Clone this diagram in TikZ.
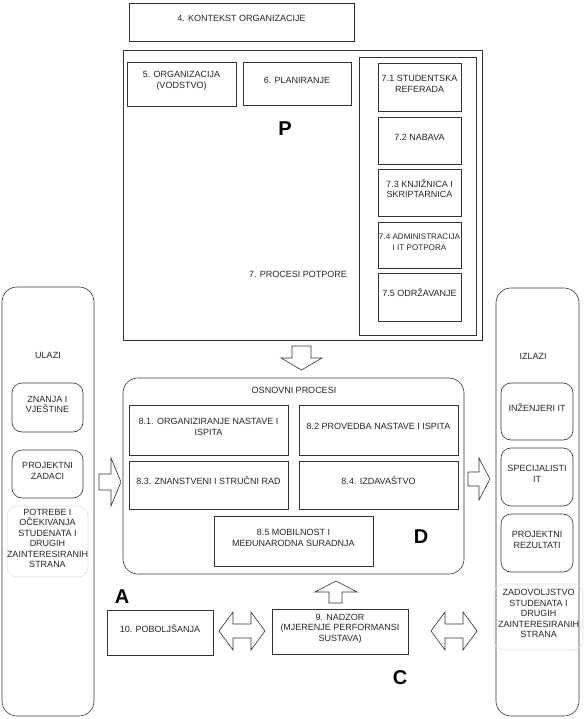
\documentclass[tikz,border=0pt]{standalone}
\usepackage{fontspec}
\setmainfont{Liberation Sans}
\usetikzlibrary{fit}
\begin{document}
\begin{tikzpicture}[x=1pt,y=-1pt,
  box/.style={draw=black!80, line width=0.6pt, align=center, inner sep=0pt,
    font=\fontsize{9}{10.5}\selectfont, text=black!85},
  rbox/.style={box, rounded corners=10pt},
  colbox/.style={box, rounded corners=15pt},
  fbox/.style={box, draw=black!12, rounded corners=10pt},
  lbl/.style={font=\fontsize{9}{10.5}\selectfont, text=black!85, inner sep=0pt},
  big/.style={font=\fontsize{20}{20}\selectfont\bfseries, inner sep=0pt},
  blockarrow/.style={draw=black!80, line width=0.6pt, fill=white, line join=miter}]
\useasboundingbox (0,0) rectangle (586,719);

% context
\node[box, fit={(129,3) (354,41)}] (ctx) {4. KONTEKST ORGANIZACIJE};

% planning block
\node[box, fit={(123,50) (482,340)}] (plan) {};
\node[box, fit={(127,62) (236,106)}] (org) {5. ORGANIZACIJA\\(VODSTVO)};
\node[box, fit={(243,62) (351,105)}] (planir) {6. PLANIRANJE};
\node[big] (P) at (285,129) {P};
\node[lbl] (potpore) at (298,274) {7. PROCESI POTPORE};
\node[box, fit={(359,57) (476,335)}] (supp) {};
\node[box, fit={(378,63) (461,111)}] (s1) {7.1 STUDENTSKA\\REFERADA};
\node[box, fit={(378,117) (461,164)}] (s2) {7.2 NABAVA};
\node[box, fit={(378,169) (461,216)}] (s3) {7.3 KNJIŽNICA I\\SKRIPTARNICA};
\node[box, fit={(378,222) (461,268)}, font=\fontsize{8.1}{10.5}\selectfont] (s4) {7.4 ADMINISTRACIJA\\I IT POTPORA};
\node[box, fit={(378,273) (461,321)}] (s5) {7.5 ODRŽAVANJE};

% down arrow
\draw[blockarrow] (292,346) -- (311,346) -- (311,358) -- (322,358) -- (301.5,370) -- (281,358) -- (292,358) -- cycle;

% core processes
\node[colbox, fit={(123,378) (464,574)}] (core) {};
\node[lbl] (coret) at (294,390) {OSNOVNI PROCESI};
\node[box, fit={(129,405) (288,455)}] (c1) {8.1. ORGANIZIRANJE NASTAVE I\\ISPITA};
\node[box, fit={(299,405) (458,455)}] (c2) {8.2 PROVEDBA NASTAVE I ISPITA};
\node[box, fit={(129,461) (288,509)}] (c3) {8.3. ZNANSTVENI I STRUČNI RAD};
\node[box, fit={(299,461) (458,509)}] (c4) {8.4. IZDAVAŠTVO};
\node[box, fit={(214,516) (373,566)}] (c5) {8.5 MOBILNOST I\\MEĐUNARODNA SURADNJA};
\node[big] (D) at (421,537) {D};

% inputs
\node[colbox, fit={(2,287) (94,716)}] (ulazi) {};
\node[lbl] (ulazit) at (48,355) {ULAZI};
\node[rbox, fit={(12,383) (83,432)}] (u1) {ZNANJA I\\VJEŠTINE};
\node[rbox, fit={(12,450) (83,498)}] (u2) {PROJEKTNI\\ZADACI};
\node[fbox, fit={(7,506) (88,577)}] (u3) {POTREBE I\\OČEKIVANJA\\STUDENATA I\\DRUGIH\\ZAINTERESIRANIH\\STRANA};

% outputs
\node[colbox, fit={(496,288) (579,716)}] (izlazi) {};
\node[lbl] (izlazit) at (533,356) {IZLAZI};
\node[rbox, fit={(501,383) (573,440)}] (i1) {INŽENJERI IT};
\node[rbox, fit={(501,448) (573,506)}] (i2) {SPECIJALISTI\\IT};
\node[rbox, fit={(501,514) (573,572)}] (i3) {PROJEKTNI\\REZULTATI};
\node[fbox, fit={(494,584) (583,650)}] (i4) {ZADOVOLJSTVO\\STUDENATA I\\DRUGIH\\ZAINTERESIRANIH\\STRANA};

% side arrows
\draw[blockarrow] (99,474) -- (111,474) -- (111,458) -- (121,482) -- (111,506) -- (111,490) -- (99,490) -- cycle;
\draw[blockarrow] (468,472) -- (479,472) -- (479,458) -- (490,479) -- (479,500) -- (479,486) -- (468,486) -- cycle;

% check / act
\node[big] (A) at (122,597) {A};
\node[box, fit={(107,610) (213,655)}] (pob) {10. POBOLJŠANJA};
\node[box, fit={(272,609) (408,654)}] (nad) {9. NADZOR\\(MJERENJE PERFORMANSI\\SUSTAVA)};
\node[big] (C) at (400,678) {C};

% up arrow
\draw[blockarrow] (329,603) -- (329,592) -- (315,592) -- (336,581) -- (357,592) -- (342,592) -- (342,603) -- cycle;

% double arrows
\draw[blockarrow] (219,631) -- (233,612) -- (233,624) -- (251,624) -- (251,612) -- (265,631) -- (251,650) -- (251,638) -- (233,638) -- (233,650) -- cycle;
\draw[blockarrow] (431,631) -- (445,612) -- (445,624) -- (463,624) -- (463,612) -- (477,631) -- (463,650) -- (463,638) -- (445,638) -- (445,650) -- cycle;
\end{tikzpicture}
\end{document}
